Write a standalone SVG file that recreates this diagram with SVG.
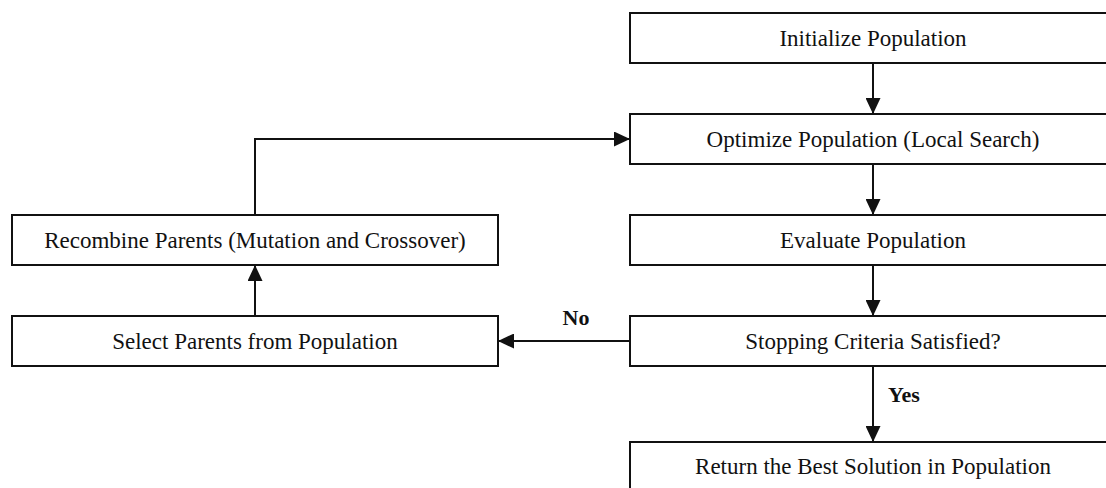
<svg xmlns="http://www.w3.org/2000/svg" width="1106" height="488" viewBox="0 0 1106 488">
<style>
.box{fill:#fff;stroke:#111;stroke-width:2}
.lbl{font-family:"Liberation Serif","Times New Roman",serif;font-size:23px;fill:#111;text-anchor:middle}
.cond{font-family:"Liberation Serif","Times New Roman",serif;font-size:22px;font-weight:bold;fill:#111}
.edge{fill:none;stroke:#111;stroke-width:2}
</style>
<defs>
<marker id="arr" markerUnits="userSpaceOnUse" markerWidth="16" markerHeight="15" refX="16" refY="7.5" orient="auto">
<path d="M0,0 L16,7.5 L0,15 Z" fill="#111"/>
</marker>
</defs>
<rect width="1106" height="488" fill="#fff"/>
<g id="connectors">
<path class="edge" d="M873,63 V114" marker-end="url(#arr)"/>
<path class="edge" d="M873,164 V215" marker-end="url(#arr)"/>
<path class="edge" d="M873,265 V316" marker-end="url(#arr)"/>
<path class="edge" d="M873,366 V442" marker-end="url(#arr)"/>
<path class="edge" d="M630,341 H498" marker-end="url(#arr)"/>
<path class="edge" d="M255,316 V265" marker-end="url(#arr)"/>
<path class="edge" d="M255,215 V139 H630" marker-end="url(#arr)"/>
<text class="cond" x="576" y="325" text-anchor="middle">No</text>
<text class="cond" x="888" y="402">Yes</text>
</g>
<g id="init">
<rect class="box" x="630" y="13" width="486" height="50"/>
<text class="lbl" x="873" y="45.5">Initialize Population</text>
</g>
<g id="optimize">
<rect class="box" x="630" y="114" width="486" height="50"/>
<text class="lbl" x="873" y="146.5">Optimize Population (Local Search)</text>
</g>
<g id="evaluate">
<rect class="box" x="630" y="215" width="486" height="50"/>
<text class="lbl" x="873" y="247.5">Evaluate Population</text>
</g>
<g id="stopping">
<rect class="box" x="630" y="316" width="486" height="50"/>
<text class="lbl" x="873" y="348.5">Stopping Criteria Satisfied?</text>
</g>
<g id="return">
<rect class="box" x="630" y="442" width="486" height="50"/>
<text class="lbl" x="873" y="474">Return the Best Solution in Population</text>
</g>
<g id="recombine">
<rect class="box" x="12" y="215" width="486" height="50"/>
<text class="lbl" x="255" y="247.5">Recombine Parents (Mutation and Crossover)</text>
</g>
<g id="select">
<rect class="box" x="12" y="316" width="486" height="50"/>
<text class="lbl" x="255" y="348.5">Select Parents from Population</text>
</g>
</svg>
